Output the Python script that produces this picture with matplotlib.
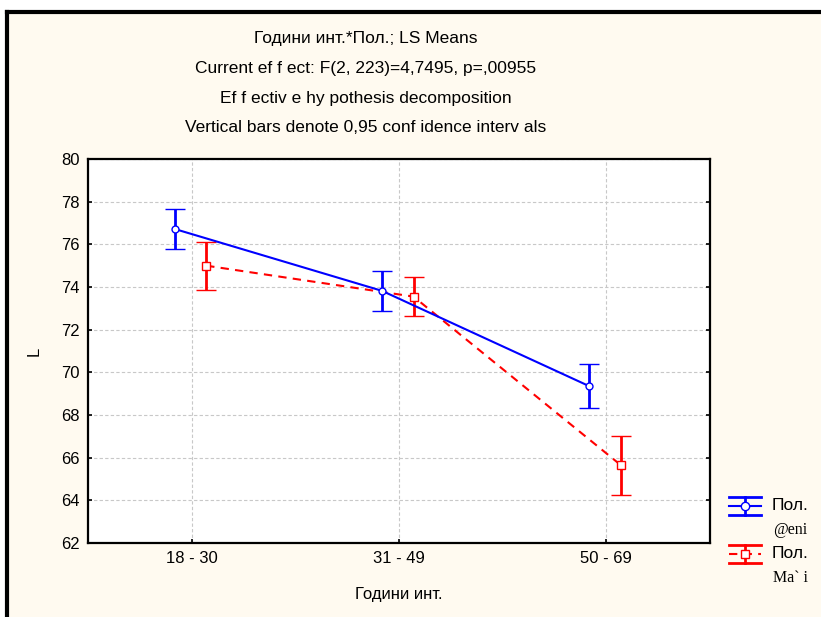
import matplotlib.pyplot as plt
from matplotlib.lines import Line2D
import numpy as np

plt.rcParams['font.family'] = ['Liberation Sans', 'DejaVu Sans']

# данни
categories = ['18 - 30', '31 - 49', '50 - 69']
zheni_mean = [76.72, 73.82, 69.35]
zheni_ci = [0.92, 0.95, 1.02]
mazhe_mean = [75.0, 73.55, 65.65]
mazhe_ci = [1.12, 0.92, 1.38]
yticks = [62, 64, 66, 68, 70, 72, 74, 76, 78, 80]

title_lines = [
    'Години инт.*Пол.; LS Means',
    'Current ef f ect: F(2, 223)=4,7495, p=,00955',
    'Ef f ectiv e hy pothesis decomposition',
    'Vertical bars denote 0,95 conf idence interv als',
]

W, H = 821, 617
bg = '#fffaf0'

fig = plt.figure(figsize=(W / 100, H / 100), dpi=100, facecolor='white')


def fx(px):
    return px / W


def fy(py):
    return 1 - py / H


# cream panel with black border (clipped on right/bottom)
fig.patches.append(plt.Rectangle((fx(7), 0), 1 - fx(7), fy(12), transform=fig.transFigure,
                                 facecolor=bg, edgecolor='none', zorder=-10))
fig.add_artist(Line2D([fx(7), 1], [fy(12), fy(12)], transform=fig.transFigure, color='black', lw=3))
fig.add_artist(Line2D([fx(7), fx(7)], [fy(12), 0], transform=fig.transFigure, color='black', lw=3))

ax = fig.add_axes([fx(88), fy(543), fx(710) - fx(88), fy(159) - fy(543)])
ax.set_facecolor('white')
ax.set_zorder(2)

x = np.arange(len(categories))
off_z, off_m = -0.082, 0.07

ax.errorbar(x + off_z, zheni_mean, yerr=zheni_ci, color='#0000ff', lw=1.5, elinewidth=2,
            capsize=7, capthick=2, marker='o', ms=5, mfc='white', mec='#0000ff', mew=1,
            zorder=4)
ax.errorbar(x + off_m, mazhe_mean, yerr=mazhe_ci, color='#ff0000', lw=1.5, ls='--',
            dashes=(4, 3), elinewidth=2, capsize=7, capthick=2, marker='s', ms=6,
            mfc='white', mec='#ff0000', mew=1, zorder=3)

ax.set_xlim(-0.5, 2.5)
ax.set_ylim(62, 80)
ax.set_xticks(x)
ax.set_xticklabels(categories)
ax.set_yticks(yticks)
ax.grid(True, color='#c8c8c8', ls=(0, (3, 2)), lw=0.8)
ax.set_axisbelow(True)
ax.tick_params(direction='in', length=3, width=1.2, labelsize=12, pad=6)
ax.tick_params(axis='y', right=True)
for s in ax.spines.values():
    s.set_linewidth(1.6)

ax.set_ylabel('L', fontsize=12, labelpad=14)
ax.set_xlabel('Години инт.', fontsize=12, labelpad=15)

for i, t in enumerate(title_lines):
    fig.text(fx(366), fy(38 + 30 * i), t, ha='center', va='center', fontsize=12.5)

# легенда
def legend_item(yc, color, marker, dashed):
    x0, x1, xc = fx(729), fx(761), fx(745)
    d = 9
    kw = dict(transform=fig.transFigure, color=color, lw=2)
    fig.add_artist(Line2D([x0, x1], [fy(yc - d), fy(yc - d)], **kw))
    fig.add_artist(Line2D([x0, x1], [fy(yc + d), fy(yc + d)], **kw))
    fig.add_artist(Line2D([xc, xc], [fy(yc - d), fy(yc + d)], **kw))
    fig.add_artist(Line2D([x0, x1], [fy(yc), fy(yc)], transform=fig.transFigure, color=color,
                          lw=1.5, ls='--' if dashed else '-', dashes=(4, 3) if dashed else (None, None)))
    fig.add_artist(Line2D([xc], [fy(yc)], transform=fig.transFigure, marker=marker, ms=6,
                          mfc='white', mec=color, mew=1, ls='none'))


legend_item(506, '#0000ff', 'o', False)
legend_item(554, '#ff0000', 's', True)
fig.text(fx(772), fy(506), 'Пол.', ha='left', va='center', fontsize=12.5)
fig.text(fx(773), fy(530), '@eni', ha='left', va='center', fontsize=11.5, family='Liberation Serif')
fig.text(fx(772), fy(554), 'Пол.', ha='left', va='center', fontsize=12.5)
fig.text(fx(773), fy(578), 'Ma` i', ha='left', va='center', fontsize=11.5, family='Liberation Serif')

fig.savefig('out.png', dpi=100, facecolor='white')
